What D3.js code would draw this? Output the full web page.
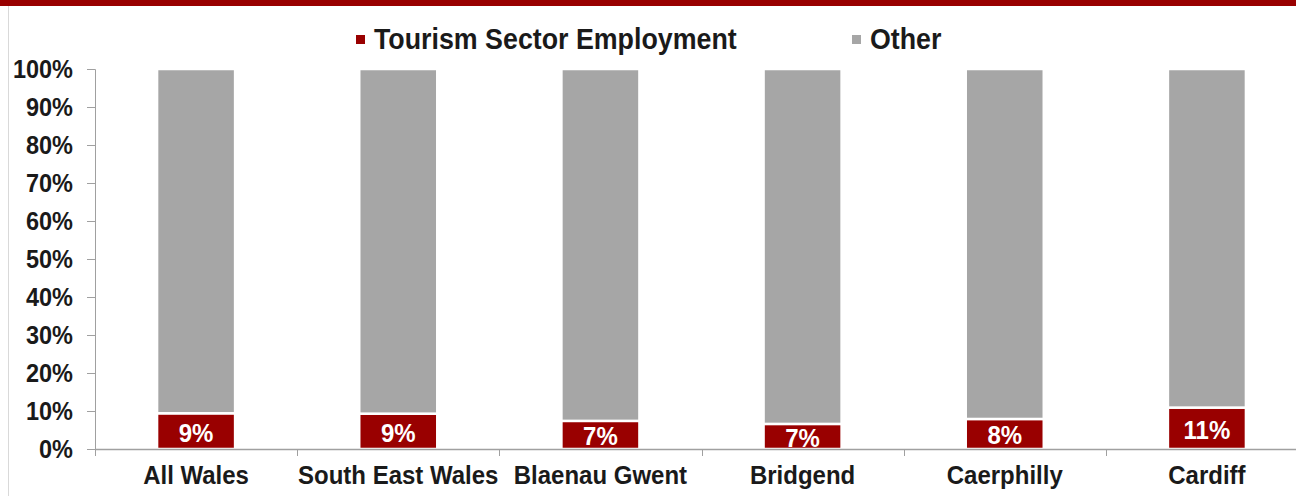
<!DOCTYPE html>
<html>
<head>
<meta charset="utf-8">
<script src="https://cdn.jsdelivr.net/npm/d3@7"></script>
<style>
  html, body { margin: 0; padding: 0; background: #fff; }
  svg { display: block; }
  text { font-family: "Liberation Sans", Arial, sans-serif; font-weight: bold; }
</style>
</head>
<body>
<svg id="chart" width="1296" height="496"></svg>
<script>
// Share of employment by area
const categories = ["All Wales", "South East Wales", "Blaenau Gwent", "Bridgend", "Caerphilly", "Cardiff"];
const tourismShare = [0.094, 0.093, 0.074, 0.066, 0.079, 0.109];
const otherShare = [0.906, 0.907, 0.926, 0.934, 0.921, 0.891];
const seriesNames = ["Tourism Sector Employment", "Other"];
const yTicks = [0, 0.1, 0.2, 0.3, 0.4, 0.5, 0.6, 0.7, 0.8, 0.9, 1.0];

const colors = { tourism: "#990000", other: "#a6a6a6", axis: "#a0a0a0" };

const W = 1296, H = 496;
const plot = { left: 95, right: 1308, top: 69, bottom: 449 };
const stretch = 1.1; // text is drawn slightly tall

const svg = d3.select("#chart");

// place a text element at (x, y) with the vertical stretch applied
function placeText(sel, fx, fy) {
  sel.attr("x", 0).attr("y", 0)
    .attr("transform", (d, i) => `translate(${fx(d, i)},${fy(d, i)}) scale(1,${stretch})`);
  return sel;
}

// page frame: red header band and thin left rule
svg.append("rect").attr("x", 0).attr("y", 0).attr("width", W).attr("height", 6).attr("fill", colors.tourism);
svg.append("line").attr("x1", 8.5).attr("x2", 8.5).attr("y1", 6).attr("y2", H)
  .attr("stroke", "#d9d9d9").attr("stroke-width", 1);

const y = d3.scaleLinear().domain([0, 1]).range([plot.bottom, plot.top]);
const xOuter = d3.scaleBand().domain(categories).range([plot.left, plot.right]);
const pad = 0.614;
const x = d3.scaleBand().domain(categories).range([plot.left, plot.right])
  .paddingInner(pad).paddingOuter(pad / 2);

const rows = categories.map((c, i) => ({ cat: c, tourism: tourismShare[i], other: otherShare[i] }));
const stack = d3.stack().keys(["tourism", "other"])(rows);

// stacked bars
svg.append("g").selectAll("g").data(stack).join("g")
  .attr("fill", d => colors[d.key])
  .selectAll("rect").data(d => d).join("rect")
  .attr("x", d => x(d.data.cat))
  .attr("width", x.bandwidth())
  .attr("y", d => y(d[1]))
  .attr("height", d => y(d[0]) - y(d[1]))
  .attr("stroke", "#fff").attr("stroke-width", 2.5);

// y axis
const yAxis = svg.append("g").attr("transform", `translate(${plot.left},0)`)
  .call(d3.axisLeft(y).tickValues(yTicks).tickFormat(d3.format(".0%")).tickSize(8).tickPadding(14));
yAxis.select(".domain").attr("stroke", colors.axis).attr("d", `M-8,${plot.top + 0.5}H0.5V${plot.bottom}`);
yAxis.selectAll(".tick line").attr("stroke", colors.axis);
yAxis.selectAll(".tick text").attr("fill", "#1a1a1a").attr("font-size", 23.5)
  .attr("font-family", "Liberation Sans, Arial, sans-serif").attr("font-weight", "bold")
  .attr("dy", null).attr("dominant-baseline", "central")
  .attr("transform", `translate(-22,0) scale(1,${stretch})`).attr("x", 0);

// x axis line with ticks at category boundaries
const xAxisG = svg.append("g").attr("transform", `translate(0,${plot.bottom})`);
xAxisG.append("line").attr("x1", plot.left).attr("x2", W).attr("y1", 0.5).attr("y2", 0.5)
  .attr("stroke", colors.axis).attr("stroke-width", 1.5);
xAxisG.selectAll("line.tk").data(categories).join("line").attr("class", "tk")
  .attr("x1", d => Math.round(xOuter(d)) + 0.5).attr("x2", d => Math.round(xOuter(d)) + 0.5)
  .attr("y1", 0).attr("y2", 7).attr("stroke", colors.axis);
placeText(xAxisG.selectAll("text").data(categories).join("text"),
    d => xOuter(d) + xOuter.bandwidth() / 2, () => 34.5)
  .attr("text-anchor", "middle")
  .attr("font-size", 24).attr("fill", "#1a1a1a").text(d => d);

// value labels inside the tourism segment
svg.append("clipPath").attr("id", "plotClip").append("rect")
  .attr("x", plot.left).attr("y", plot.top).attr("width", plot.right - plot.left).attr("height", plot.bottom - plot.top - 1);
placeText(svg.append("g").attr("clip-path", "url(#plotClip)").selectAll("text").data(stack[0]).join("text"),
    d => x(d.data.cat) + x.bandwidth() / 2, d => (y(d[0]) + y(d[1])) / 2 + 1)
  .attr("dominant-baseline", "central").attr("text-anchor", "middle")
  .attr("font-size", 24).attr("fill", "#fff")
  .text(d => d3.format(".0%")(d.data.tourism));

// legend
const legend = svg.append("g");
const legendItems = [
  { name: seriesNames[0], color: colors.tourism, x: 356 },
  { name: seriesNames[1], color: colors.other, x: 852 }
];
legendItems.forEach(it => {
  legend.append("rect").attr("x", it.x).attr("y", 35).attr("width", 9).attr("height", 9).attr("fill", it.color);
  placeText(legend.append("text"), () => it.x + 18, () => 48.5)
    .attr("font-size", 26.8).attr("fill", "#1a1a1a").text(it.name);
});
</script>
</body>
</html>
